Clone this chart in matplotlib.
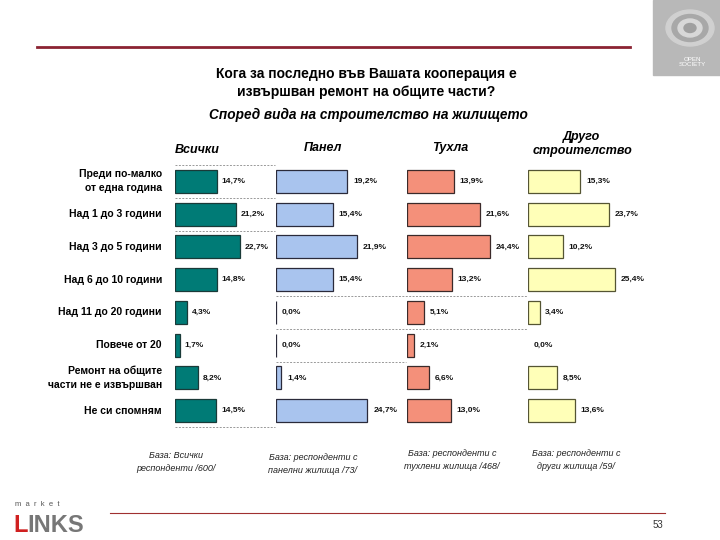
import matplotlib
matplotlib.use('Agg')
import matplotlib.pyplot as plt
from matplotlib.patches import Rectangle, Circle
from matplotlib.lines import Line2D

plt.rcParams['font.family'] = ['Liberation Sans', 'DejaVu Sans']

categories = ['Преди по-малко\nот една година', 'Над 1 до 3 години', 'Над 3 до 5 години',
              'Над 6 до 10 години', 'Над 11 до 20 години', 'Повече от 20',
              'Ремонт на общите\nчасти не е извършван', 'Не си спомням']
vsichki = [14.7, 21.2, 22.7, 14.8, 4.3, 1.7, 8.2, 14.5]
panel = [19.2, 15.4, 21.9, 15.4, 0.0, 0.0, 1.4, 24.7]
tuhla = [13.9, 21.6, 24.4, 13.2, 5.1, 2.1, 6.6, 13.0]
drugo = [15.3, 23.7, 10.2, 25.4, 3.4, 0.0, 8.5, 13.6]
headers = ['Всички', 'Панел', 'Тухла', 'Друго\nстроителство']
bases = ['База: Всички\nреспонденти /600/', 'База: респонденти с\nпанелни жилища /73/',
         'База: респонденти с\nтухлени жилища /468/', 'База: респонденти с\nдруги жилища /59/']

W, H = 720, 540
fig = plt.figure(figsize=(7.2, 5.4), dpi=100)


def fx(x):
    return x / W


def fy(y):
    return 1 - y / H


def ftext(x, y, s, **kw):
    fig.text(fx(x), fy(y), s, **kw)


# panel geometry: left px, width px, x max (%)
top_px, bot_px = 165, 427
panels = [
    (vsichki, '#007B76', '#1a3a38', 175, 100, 100 / 2.86),
    (panel, '#A9C4EE', '#2a2a3a', 276, 130, 130 / 3.7),
    (tuhla, '#F4907A', '#3a2a2a', 407, 120, 120 / 3.4),
    (drugo, '#FFFFB8', '#555533', 528, 150, 150 / 3.43),
]

axes = []
for vals, col, ec, left, width, xmax in panels:
    ax = fig.add_axes([fx(left), fy(bot_px), width / W, (bot_px - top_px) / H])
    ax.set_xlim(0, xmax)
    ax.set_ylim(len(vals) - 0.5, -0.5)
    ypos = list(range(len(vals)))
    lws = [0.9 if (v > 0 or vals is panel) else 0 for v in vals]
    ax.barh(ypos, vals, height=0.7, color=col, edgecolor=ec, linewidth=lws)
    for y, v in zip(ypos, vals):
        ax.text(v + 1.6, y, ('%.1f%%' % v).replace('.', ','), va='center', ha='left',
                fontsize=6, fontweight='bold', color='#111111')
    ax.axis('off')
    axes.append(ax)

dash = dict(color='#999999', linestyle=(0, (2, 1.5)), linewidth=0.7, clip_on=False)
# dashed separators as in the original slide
for yb in [-0.5, 0.5, 1.5, 7.5]:
    axes[0].axhline(yb, 0, 1, **dash)
for yb in [3.5, 4.5]:
    axes[1].axhline(yb, 0, (527 - 276) / 130, **dash)
axes[1].axhline(5.5, 0, 1, **dash)

# row labels
for i, lab in enumerate(categories):
    y = top_px + (i + 0.5) * (bot_px - top_px) / len(categories)
    ftext(162, y, lab, ha='right', va='center', fontsize=7.5, fontweight='bold',
          linespacing=1.5)

# column headers
ftext(175, 150, headers[0], ha='left', va='center', fontsize=9, fontweight='bold', style='italic')
ftext(323, 148, headers[1], ha='center', va='center', fontsize=9, fontweight='bold', style='italic')
ftext(450, 148, headers[2], ha='center', va='center', fontsize=9, fontweight='bold', style='italic')
ftext(582, 144, headers[3], ha='center', va='center', fontsize=9, fontweight='bold', style='italic',
      linespacing=1.3)

# base notes
for bx, by, txt in zip([176, 313, 452, 576], [462, 464, 460, 460], bases):
    ftext(bx, by, txt, ha='center', va='center', fontsize=6.5, style='italic',
          color='#222222', linespacing=1.5)

# titles
ftext(366, 83, 'Кога за последно във Вашата кооперация е\nизвършван ремонт на общите части?',
      ha='center', va='center', fontsize=10, fontweight='bold', linespacing=1.3)
ftext(368, 115, 'Според вида на строителство на жилището', ha='center', va='center',
      fontsize=9.8, fontweight='bold', style='italic')

# slide decoration
fig.add_artist(Line2D([fx(37), fx(630)], [fy(47), fy(47)], color='#8B2332', linewidth=2))
fig.add_artist(Line2D([fx(110), fx(665)], [fy(513), fy(513)], color='#A03030', linewidth=0.8))
ftext(658, 525, '53', ha='center', va='center', fontsize=7, color='#333333')
ftext(15, 505, 'm  a  r  k  e  t', ha='left', va='center', fontsize=5.5, color='#555555')
ftext(13, 525, 'L', ha='left', va='center', fontsize=17, fontweight='bold', color='#D02020')
ftext(27, 525, 'INKS', ha='left', va='center', fontsize=17, fontweight='bold', color='#777777')
fig.add_artist(Rectangle((fx(653), fy(75)), 67 / W, 75 / H, color='#B8B8B8'))
for r, c in [(24, '#D0D0D0'), (18, '#A8A8A8'), (12, '#D8D8D8'), (6, '#A0A0A0')]:
    fig.add_artist(Circle((fx(690), fy(28)), r / W, color=c,
                          transform=fig.transFigure))
ftext(692, 62, 'OPEN\nSOCIETY', ha='center', va='center', fontsize=4.5, color='white',
      linespacing=1.1)

fig.savefig('out.png', dpi=100)
